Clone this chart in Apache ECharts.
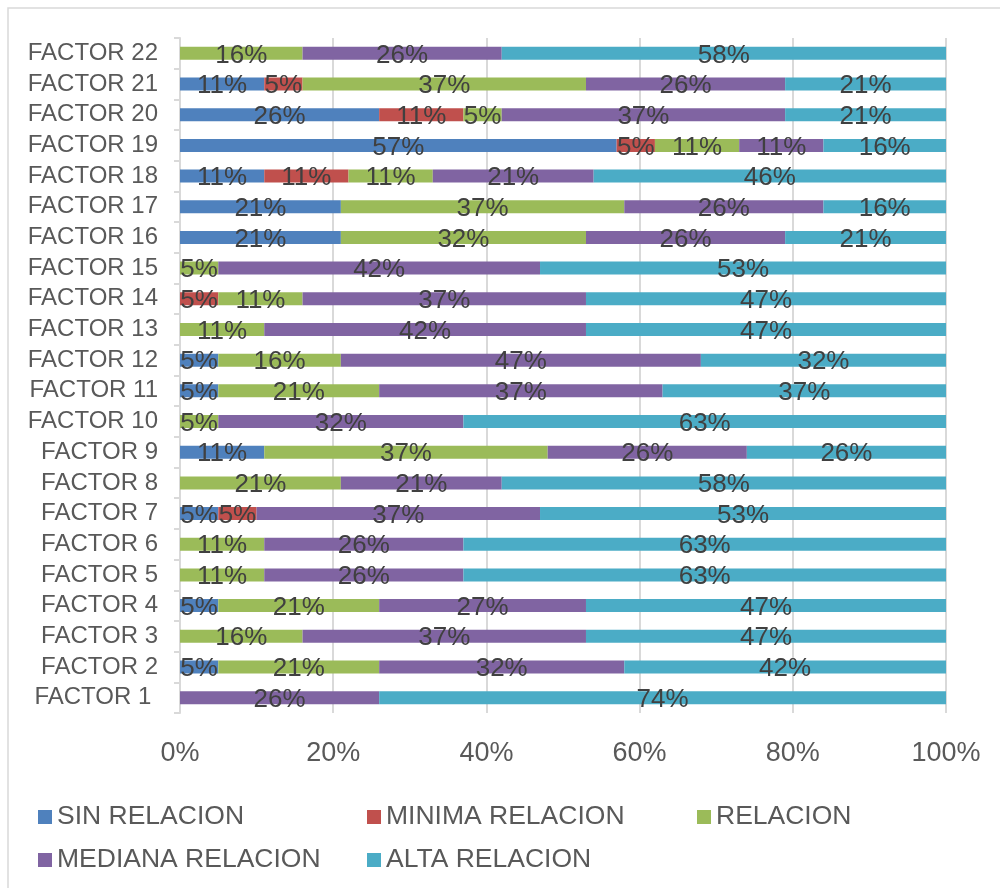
<!DOCTYPE html>
<html>
<head>
<meta charset="utf-8">
<script src="https://cdn.jsdelivr.net/npm/echarts@6/dist/echarts.min.js"></script>
<style>
  html, body { margin: 0; padding: 0; background: #fff; }
  #chart { width: 1000px; height: 888px; }
</style>
</head>
<body>
<div id="chart"></div>
<script>
// Factors listed bottom-to-top (category axis starts at the bottom)
const factors = [
  'FACTOR 1 ', 'FACTOR 2', 'FACTOR 3', 'FACTOR 4', 'FACTOR 5', 'FACTOR 6',
  'FACTOR 7', 'FACTOR 8', 'FACTOR 9', 'FACTOR 10', 'FACTOR 11', 'FACTOR 12',
  'FACTOR 13', 'FACTOR 14', 'FACTOR 15', 'FACTOR 16', 'FACTOR 17', 'FACTOR 18',
  'FACTOR 19', 'FACTOR 20', 'FACTOR 21', 'FACTOR 22'
];

// Share of answers (%) per factor, same order as factors
const sinRelacion     = [0, 5, 0, 5, 0, 0, 5, 0, 11, 0, 5, 5, 0, 0, 0, 21, 21, 11, 57, 26, 11, 0];
const minimaRelacion  = [0, 0, 0, 0, 0, 0, 5, 0, 0, 0, 0, 0, 0, 5, 0, 0, 0, 11, 5, 11, 5, 0];
const relacion        = [0, 21, 16, 21, 11, 11, 0, 21, 37, 5, 21, 16, 11, 11, 5, 32, 37, 11, 11, 5, 37, 16];
const medianaRelacion = [26, 32, 37, 27, 26, 26, 37, 21, 26, 32, 37, 47, 42, 37, 42, 26, 26, 21, 11, 37, 26, 26];
const altaRelacion    = [74, 42, 47, 47, 63, 63, 53, 58, 26, 63, 37, 32, 47, 47, 53, 21, 16, 46, 16, 21, 21, 58];

const xTicks = [0, 20, 40, 60, 80, 100];

const seriesDefs = [
  { name: 'SIN RELACION',      data: sinRelacion,     color: '#4F81BD' },
  { name: 'MINIMA RELACION',   data: minimaRelacion,  color: '#C0504D' },
  { name: 'RELACION',          data: relacion,        color: '#9BBB59' },
  { name: 'MEDIANA RELACION',  data: medianaRelacion, color: '#8064A2' },
  { name: 'ALTA RELACION',     data: altaRelacion,    color: '#4BACC6' }
];

// Legend item placement (two rows)
const legendSlots = [
  { left: 38,  top: 803 },
  { left: 367, top: 803 },
  { left: 697, top: 803 },
  { left: 38,  top: 846 },
  { left: 367, top: 846 }
];

const FONT = '"Liberation Sans", Arial, sans-serif';

const chart = echarts.init(document.getElementById('chart'), null, { renderer: 'canvas' });

chart.setOption({
  backgroundColor: '#ffffff',
  animation: false,
  graphic: [{
    type: 'rect',
    shape: { x: 8, y: 8, width: 1200, height: 1200 },
    style: { fill: 'none', stroke: '#d9d9d9', lineWidth: 1.5 },
    silent: true
  }],
  legend: seriesDefs.map((s, i) => ({
    data: [s.name],
    left: legendSlots[i].left,
    top: legendSlots[i].top,
    padding: 0,
    itemWidth: 14,
    itemHeight: 14,
    itemGap: 0,
    icon: 'rect',
    selectedMode: false,
    textStyle: { fontFamily: FONT, fontSize: 26.5, lineHeight: 28, color: '#595959' }
  })),
  grid: { left: 180, right: 54, top: 38, bottom: 175, containLabel: false },
  xAxis: {
    type: 'value',
    min: 0,
    max: 100,
    interval: 20,
    axisLine: { show: false },
    axisTick: { show: false },
    splitLine: { show: true, lineStyle: { color: '#d9d9d9', width: 2 } },
    axisLabel: {
      margin: 27,
      fontFamily: FONT,
      fontSize: 27,
      color: '#595959',
      formatter: v => (xTicks.indexOf(v) >= 0 ? v + '%' : '')
    }
  },
  yAxis: {
    type: 'category',
    data: factors,
    axisLine: { show: true, lineStyle: { color: '#d9d9d9', width: 2 } },
    axisTick: { show: true, length: 6, lineStyle: { color: '#d9d9d9', width: 2 } },
    axisLabel: { interval: 0, margin: 22, fontFamily: FONT, fontSize: 24, color: '#595959' }
  },
  series: seriesDefs.map(s => ({
    name: s.name,
    type: 'bar',
    stack: 'total',
    barWidth: 13,
    data: s.data,
    itemStyle: { color: s.color },
    label: {
      show: true,
      position: 'inside',
      offset: [0, 2],
      overflow: 'none',
      fontFamily: FONT,
      fontSize: 26,
      color: '#404040',
      formatter: p => (p.value > 0 ? p.value + '%' : '')
    }
  }))
});
</script>
</body>
</html>
